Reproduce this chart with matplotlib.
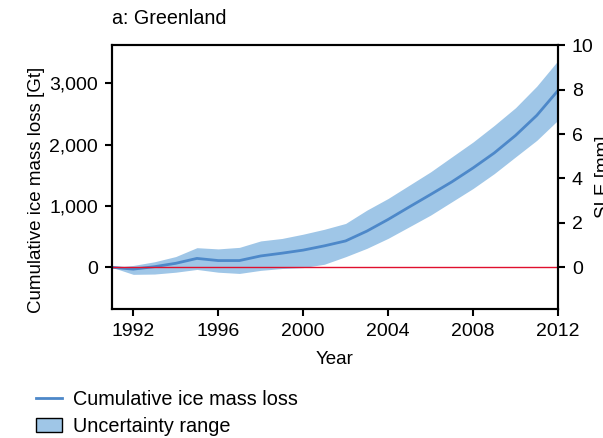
import matplotlib
matplotlib.use("Agg")
import matplotlib.pyplot as plt
from matplotlib.lines import Line2D
from matplotlib.patches import Patch
import numpy as np

plt.rcParams['font.family'] = ['Liberation Sans', 'DejaVu Sans']

# data (Gt)
years = np.arange(1991, 2013)
mass_loss = [0, -30, 10, 65, 145, 110, 110, 185, 230, 280, 350, 430,
             590, 780, 985, 1187, 1393, 1620, 1865, 2150, 2477, 2883]
upper = [0, 30, 90, 175, 320, 300, 325, 430, 470, 540, 620, 715,
         932, 1122, 1339, 1556, 1800, 2043, 2314, 2602, 2954, 3371]
lower = [0, -115, -110, -80, -35, -80, -100, -50, -20, -5, 50, 173,
         309, 472, 661, 851, 1068, 1285, 1528, 1800, 2070, 2400]
gt_per_mm = 362.0
xticks = [1992, 1996, 2000, 2004, 2008, 2012]
yticks = [0, 1000, 2000, 3000]
sle_ticks = [0, 2, 4, 6, 8, 10]

line_col = '#4d88c9'
fill_col = '#9fc6e7'

fig = plt.figure(figsize=(6.03, 4.38), dpi=100)
ax = fig.add_axes([0.1857, 0.2945, 0.7397, 0.6035])

ax.fill_between(years, lower, upper, color=fill_col, lw=0)
ax.plot(years, mass_loss, color=line_col, lw=2)
ax.axhline(0, color='#e0102e', lw=1)

ax.set_xlim(1991, 2012)
ax.set_ylim(-680, 3630)
ax.set_xticks(xticks)
ax.set_yticks(yticks)
ax.set_yticklabels(['{:,}'.format(v) for v in yticks])
ax.tick_params(direction='out', length=5, width=1.5, labelsize=14, pad=5)
for s in ax.spines.values():
    s.set_linewidth(1.5)
ax.set_xlabel('Year', fontsize=13.5, labelpad=8)
ax.set_ylabel('Cumulative ice mass loss [Gt]', fontsize=13.5)
ax.yaxis.set_label_coords(-0.15, 0.45)
ax.set_title('a: Greenland', loc='left', fontsize=14.2, pad=15)

ax2 = ax.twinx()
lo, hi = ax.get_ylim()
ax2.set_ylim(lo / gt_per_mm, hi / gt_per_mm)
ax2.set_yticks(sle_ticks)
ax2.tick_params(direction='out', length=5, width=1.5, labelsize=14, pad=5)
ax2.set_ylabel('SLE [mm]', fontsize=13.5, labelpad=1)
for s in ax2.spines.values():
    s.set_linewidth(1.5)

handles = [Line2D([0], [0], color=line_col, lw=2),
           Patch(facecolor=fill_col, edgecolor='black', lw=1)]
fig.legend(handles, ['Cumulative ice mass loss', 'Uncertainty range'],
           loc='lower left', bbox_to_anchor=(0.03, -0.037), frameon=False,
           fontsize=14.3, handlelength=1.3, handletextpad=0.55, labelspacing=0.4)

fig.savefig('out.png', dpi=100)
